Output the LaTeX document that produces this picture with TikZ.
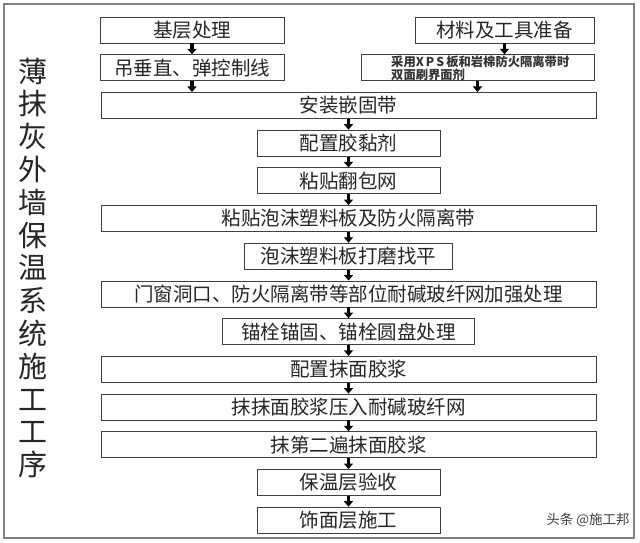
\documentclass[tikz,border=0pt]{standalone}
\usepackage{fontspec}
\setmainfont{Noto Sans CJK SC}
\usetikzlibrary{arrows.meta}
\tikzset{
  stepbox/.style={draw=black!75, line width=0.8pt, minimum height=26pt, inner sep=0pt,
    font=\fontsize{19.5}{20}\selectfont, text=black!85},
  flow/.style={line width=3.2pt, -{Triangle[width=9pt,length=5.5pt]}, black},
  frame/.style={draw=black!50, line width=1.4pt},
}
\begin{document}
\begin{tikzpicture}[x=1pt,y=-1pt]
\useasboundingbox (0,0) rectangle (640,543);
\fill[white] (0,0) rectangle (640,543);
\draw[frame] (4,4) rectangle (634,538);
% title
\node[font=\fontsize{29}{32.8}\selectfont, align=center, text=black!85, inner sep=0pt] (title) at (33,268)
  {薄\\抹\\灰\\外\\墙\\保\\温\\系\\统\\施\\工\\工\\序};
% top branches
\node[stepbox, minimum width=184pt] (b1) at (192,30) {基层处理};
\node[stepbox, minimum width=184pt] (b2) at (192,67.7) {吊垂直、弹控制线};
\node[stepbox, minimum width=179pt] (r1) at (504.5,30) {材料及工具准备};
\node[stepbox, minimum width=233pt] (r2) at (477.5,67.7) {};
\node[anchor=west, align=left, inner sep=0pt, font=\fontsize{12.3}{11.5}\selectfont\bfseries, text=black!80] (r2t) at (391,68)
  {采用X\,P\,S\,板和岩棉防火隔离带时\\双面刷界面剂};
% main column
\node[stepbox, minimum width=495pt] (s3) at (348.5,105.4) {安装嵌固带};
\node[stepbox, minimum width=183pt] (s4) at (348.5,143.1) {配置胶黏剂};
\node[stepbox, minimum width=183pt] (s5) at (348.5,180.8) {粘贴翻包网};
\node[stepbox, minimum width=495pt] (s6) at (348.5,218.5) {粘贴泡沫塑料板及防火隔离带};
\node[stepbox, minimum width=208pt] (s7) at (348.5,256.2) {泡沫塑料板打磨找平};
\node[stepbox, minimum width=495pt] (s8) at (348.5,293.9) {门窗洞口、防火隔离带等部位耐碱玻纤网加强处理};
\node[stepbox, minimum width=252pt] (s9) at (348.5,331.6) {锚栓锚固、锚栓圆盘处理};
\node[stepbox, minimum width=495pt] (s10) at (348.5,369.3) {配置抹面胶浆};
\node[stepbox, minimum width=495pt] (s11) at (348.5,407) {抹抹面胶浆压入耐碱玻纤网};
\node[stepbox, minimum width=495pt] (s12) at (348.5,444.7) {抹第二遍抹面胶浆};
\node[stepbox, minimum width=183pt] (s13) at (348.5,482.4) {保温层验收};
\node[stepbox, minimum width=183pt] (s14) at (348.5,520.1) {饰面层施工};
% watermark
\node[font=\fontsize{13.5}{14}\selectfont, text=black!75, inner sep=0pt] (wm) at (588,520) {头条 @施工邦};
% arrows
\draw[flow] (b1.south) -- (b2.north);
\draw[flow] (r1.south) -- (r2.north -| r1.south);
\draw[flow] (b2.south) -- (b2.south |- s3.north);
\draw[flow] (r2.south) -- (r2.south |- s3.north);
\draw[flow] (s3.south) -- (s4.north);
\draw[flow] (s4.south) -- (s5.north);
\draw[flow] (s5.south) -- (s6.north);
\draw[flow] (s6.south) -- (s7.north);
\draw[flow] (s7.south) -- (s8.north);
\draw[flow] (s8.south) -- (s9.north);
\draw[flow] (s9.south) -- (s10.north);
\draw[flow] (s10.south) -- (s11.north);
\draw[flow] (s11.south) -- (s12.north);
\draw[flow] (s12.south) -- (s13.north);
\draw[flow] (s13.south) -- (s14.north);
\end{tikzpicture}
\end{document}
